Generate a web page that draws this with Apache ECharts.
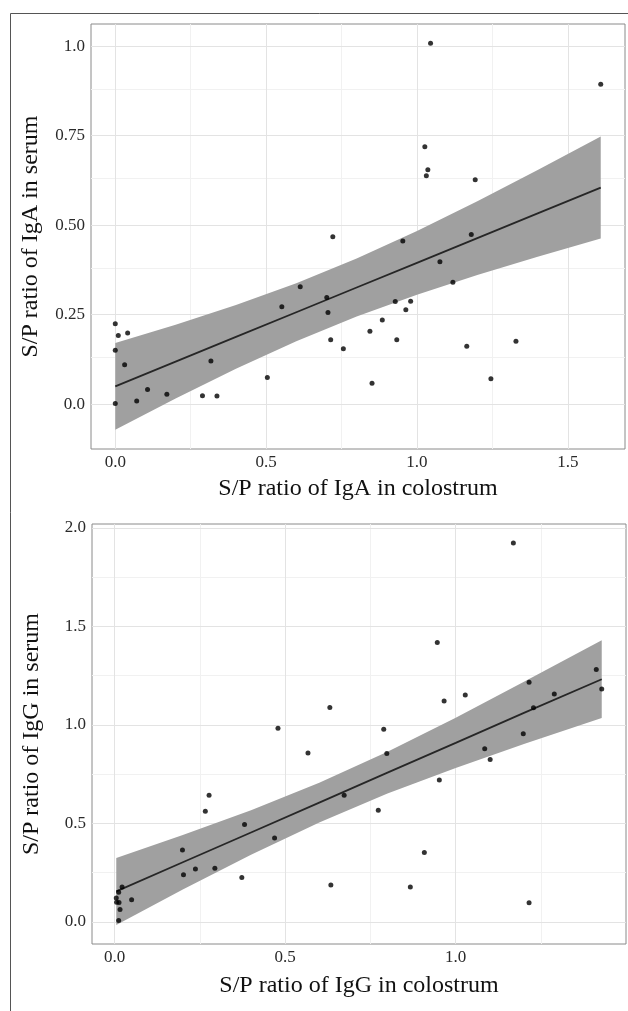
<!DOCTYPE html>
<html><head><meta charset="utf-8">
<script src="https://cdn.jsdelivr.net/npm/echarts@6/dist/echarts.min.js"></script>
<style>html,body{margin:0;padding:0;background:#fff}#c{width:628px;height:1011px}</style>
</head><body><div id="c"></div>
<script>
// ---- Panel A: IgA ----
const igaColostrum = [0, 0.01, 0.041, 0, 0.031, 0, 0.071, 0.107, 0.171, 0.289, 0.317, 0.337, 0.504, 0.552, 0.613, 0.721, 0.701, 0.705, 0.714, 0.756, 0.844, 0.851, 0.885, 0.928, 0.933, 0.953, 0.963, 0.979, 1.076, 1.119, 1.165, 1.18, 1.245, 1.328, 1.045, 1.609, 1.026, 1.036, 1.031, 1.193];
const igaSerum = [0.225, 0.192, 0.199, 0.151, 0.110, 0.002, 0.009, 0.041, 0.028, 0.024, 0.121, 0.023, 0.075, 0.272, 0.328, 0.468, 0.298, 0.256, 0.180, 0.155, 0.204, 0.059, 0.235, 0.287, 0.180, 0.456, 0.264, 0.288, 0.398, 0.341, 0.162, 0.474, 0.071, 0.176, 1.008, 0.894, 0.719, 0.655, 0.638, 0.627];
const igaFitX = [0, 0.2, 0.4, 0.6, 0.8, 1.0, 1.2, 1.4, 1.609];
const igaFit = [0.050, 0.119, 0.188, 0.257, 0.326, 0.395, 0.464, 0.533, 0.605];
const igaUpper = [0.171, 0.222, 0.277, 0.338, 0.407, 0.484, 0.567, 0.654, 0.748];
const igaLower = [-0.071, 0.016, 0.099, 0.176, 0.245, 0.306, 0.361, 0.412, 0.463];
const igaXTicks = [0, 0.5, 1.0, 1.5];
const igaXLabels = ['0.0', '0.5', '1.0', '1.5'];
const igaXMinor = [0.25, 0.75, 1.25];
const igaYTicks = [0, 0.25, 0.5, 0.75, 1.0];
const igaYLabels = ['0.0', '0.25', '0.50', '0.75', '1.0'];
const igaYMinor = [0.125, 0.375, 0.625, 0.875];

// ---- Panel B: IgG ----
const iggColostrum = [0.005, 0.006, 0.013, 0.012, 0.022, 0.016, 0.012, 0.050, 0.199, 0.202, 0.237, 0.266, 0.277, 0.294, 0.373, 0.381, 0.469, 0.479, 0.567, 0.631, 0.634, 0.673, 0.773, 0.789, 0.798, 0.867, 0.908, 0.946, 0.952, 0.966, 1.028, 1.085, 1.101, 1.169, 1.198, 1.215, 1.215, 1.228, 1.289, 1.412, 1.428];
const iggSerum = [0.121, 0.100, 0.099, 0.151, 0.177, 0.063, 0.007, 0.113, 0.365, 0.239, 0.269, 0.562, 0.643, 0.273, 0.226, 0.495, 0.426, 0.983, 0.857, 1.089, 0.188, 0.643, 0.567, 0.978, 0.855, 0.177, 0.352, 1.418, 0.721, 1.121, 1.152, 0.879, 0.824, 1.923, 0.955, 1.217, 0.098, 1.087, 1.157, 1.281, 1.182];
const iggFitX = [0.005, 0.2, 0.4, 0.6, 0.8, 1.0, 1.2, 1.428];
const iggFit = [0.155, 0.303, 0.454, 0.606, 0.758, 0.909, 1.061, 1.232];
const iggUpper = [0.325, 0.441, 0.567, 0.707, 0.864, 1.036, 1.219, 1.430];
const iggLower = [-0.015, 0.165, 0.341, 0.505, 0.652, 0.782, 0.903, 1.035];
const iggXTicks = [0, 0.5, 1.0];
const iggXLabels = ['0.0', '0.5', '1.0'];
const iggXMinor = [0.25, 0.75, 1.25];
const iggYTicks = [0, 0.5, 1.0, 1.5, 2.0];
const iggYLabels = ['0.0', '0.5', '1.0', '1.5', '2.0'];
const iggYMinor = [0.25, 0.75, 1.25, 1.75];

const FONT = 'Liberation Serif';
function expand(vals) {
  const mn = Math.min(...vals), mx = Math.max(...vals), d = (mx - mn) * 0.05;
  return [mn - d, mx + d];
}
function labelFmt(ticks, labels) {
  return function (v) {
    for (let i = 0; i < ticks.length; i++) if (Math.abs(ticks[i] - v) < 1e-6) return labels[i];
    return '';
  };
}
function zip(a, b) { return a.map((v, i) => [v, b[i]]); }

function xAxisDef(gi, ext, ticks, labels, name, gap) {
  return {
    type: 'value', gridIndex: gi, min: ext[0], max: ext[1],
    name: name, nameLocation: 'middle', nameGap: gap,
    nameTextStyle: { fontFamily: FONT, fontSize: 24, color: '#111' },
    axisLine: { show: false },
    axisTick: { show: true, length: 4, lineStyle: { color: '#333' }, customValues: ticks },
    axisLabel: { show: true, margin: 5, fontFamily: FONT, fontSize: 17, color: '#2a2a2a', customValues: ticks, formatter: labelFmt(ticks, labels) },
    splitLine: { show: false }
  };
}
function yAxisDef(gi, ext, ticks, labels, name, gap) {
  return {
    type: 'value', gridIndex: gi, min: ext[0], max: ext[1],
    name: name, nameLocation: 'middle', nameGap: gap, nameRotate: 90,
    nameTextStyle: { fontFamily: FONT, fontSize: 24, color: '#111' },
    axisLine: { show: false },
    axisTick: { show: true, length: 4, lineStyle: { color: '#333' }, customValues: ticks },
    axisLabel: { show: true, margin: 6, fontFamily: FONT, fontSize: 17, color: '#2a2a2a', customValues: ticks, formatter: labelFmt(ticks, labels) },
    splitLine: { show: false }
  };
}
function gridSeries(ai, xMaj, xMin, yMaj, yMin) {
  const d = [];
  xMin.forEach(v => d.push({ xAxis: v, lineStyle: { color: '#f1f1f1', width: 1 } }));
  yMin.forEach(v => d.push({ yAxis: v, lineStyle: { color: '#f1f1f1', width: 1 } }));
  xMaj.forEach(v => d.push({ xAxis: v, lineStyle: { color: '#e3e3e3', width: 1 } }));
  yMaj.forEach(v => d.push({ yAxis: v, lineStyle: { color: '#e3e3e3', width: 1 } }));
  return {
    type: 'line', xAxisIndex: ai, yAxisIndex: ai, data: [], z: 1, silent: true,
    markLine: { z: 1, silent: true, symbol: ['none', 'none'], label: { show: false }, animation: false, data: d, lineStyle: { type: 'solid' } }
  };
}
function bandSeries(ai, xs, lo, hi) {
  return {
    type: 'custom', xAxisIndex: ai, yAxisIndex: ai, data: [0], z: 6, silent: true, clip: false,
    renderItem: function (params, api) {
      const pts = [];
      for (let i = 0; i < xs.length; i++) pts.push(api.coord([xs[i], hi[i]]));
      for (let i = xs.length - 1; i >= 0; i--) pts.push(api.coord([xs[i], lo[i]]));
      return { type: 'polygon', shape: { points: pts }, style: { fill: '#a0a0a0' } };
    }
  };
}
function fitSeries(ai, xs, ys) {
  return { type: 'line', xAxisIndex: ai, yAxisIndex: ai, data: zip(xs, ys), showSymbol: false, z: 7, silent: true, clip: false,
    lineStyle: { color: '#262626', width: 1.8 } };
}
function pointSeries(ai, xs, ys) {
  return { type: 'scatter', xAxisIndex: ai, yAxisIndex: ai, data: zip(xs, ys), symbolSize: 5, z: 8, clip: false,
    itemStyle: { color: '#000' } };
}

const aX = expand(igaColostrum.concat(igaFitX));
const aY = expand(igaSerum.concat(igaLower, igaUpper));
const gX = expand(iggColostrum.concat(iggFitX));
const gY = expand(iggSerum.concat(iggLower, iggUpper));

const chart = echarts.init(document.getElementById('c'), null, { renderer: 'canvas' });
chart.setOption({
  animation: false,
  backgroundColor: '#fff',
  graphic: [{ type: 'rect', shape: { x: 10.5, y: 13.5, width: 700, height: 1100 }, style: { fill: 'none', stroke: '#555', lineWidth: 1 }, z: 0 }],
  grid: [
    { left: 91, top: 24, width: 534, height: 425, show: true, borderColor: '#8a8a8a', borderWidth: 1, backgroundColor: '#fff' },
    { left: 92, top: 524, width: 534, height: 420, show: true, borderColor: '#8a8a8a', borderWidth: 1, backgroundColor: '#fff' }
  ],
  xAxis: [
    xAxisDef(0, aX, igaXTicks, igaXLabels, 'S/P ratio of IgA in colostrum', 28),
    xAxisDef(1, gX, iggXTicks, iggXLabels, 'S/P ratio of IgG in colostrum', 30)
  ],
  yAxis: [
    yAxisDef(0, aY, igaYTicks, igaYLabels, 'S/P ratio of IgA in serum', 48),
    yAxisDef(1, gY, iggYTicks, iggYLabels, 'S/P ratio of IgG in serum', 48)
  ],
  series: [
    gridSeries(0, igaXTicks, igaXMinor, igaYTicks, igaYMinor),
    bandSeries(0, igaFitX, igaLower, igaUpper),
    fitSeries(0, igaFitX, igaFit),
    pointSeries(0, igaColostrum, igaSerum),
    gridSeries(1, iggXTicks, iggXMinor, iggYTicks, iggYMinor),
    bandSeries(1, iggFitX, iggLower, iggUpper),
    fitSeries(1, iggFitX, iggFit),
    pointSeries(1, iggColostrum, iggSerum)
  ]
});
</script>
</body></html>
